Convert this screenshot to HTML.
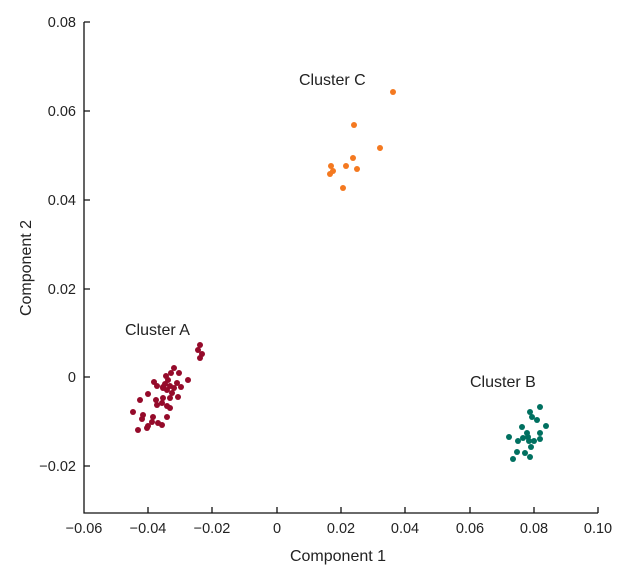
<!DOCTYPE html><html><head><style>body{margin:0;background:#fff}svg{display:block}text{font-family:"Liberation Sans",sans-serif;fill:#222}</style></head><body>
<svg width="618" height="573" viewBox="0 0 618 573">
<g stroke="#111" stroke-width="1.3" fill="none">
<path d="M84,22V513H598"/>
<path d="M148,513v-6M212,513v-6M277,513v-6M341,513v-6M405,513v-6M470,513v-6M534,513v-6M598,513v-6"/>
<path d="M84,22h6M84,111h6M84,200h6M84,289h6M84,377h6M84,466h6"/>
</g>
<g font-size="14.5" text-anchor="middle">
<text x="84" y="533">−0.06</text><text x="148" y="533">−0.04</text><text x="212" y="533">−0.02</text><text x="277" y="533">0</text><text x="341" y="533">0.02</text><text x="405" y="533">0.04</text><text x="470" y="533">0.06</text><text x="534" y="533">0.08</text><text x="598" y="533">0.10</text>
</g>
<g font-size="14.5" text-anchor="end">
<text x="76" y="27">0.08</text><text x="76" y="116">0.06</text><text x="76" y="205">0.04</text><text x="76" y="294">0.02</text><text x="76" y="382">0</text><text x="76" y="471">−0.02</text>
</g>
<text x="338" y="561" font-size="16" text-anchor="middle">Component 1</text>
<text transform="translate(31,268) rotate(-90)" font-size="16" text-anchor="middle">Component 2</text>
<text x="299" y="85" font-size="16">Cluster C</text>
<text x="125" y="335" font-size="16">Cluster A</text>
<text x="470" y="387" font-size="16">Cluster B</text>
<g fill="#950a2a">
<circle cx="200" cy="345" r="3"/><circle cx="198" cy="350" r="3"/><circle cx="202" cy="354" r="3"/><circle cx="200" cy="358" r="3"/>
<circle cx="174" cy="368" r="3"/><circle cx="171" cy="373" r="3"/><circle cx="179" cy="373" r="3"/><circle cx="188" cy="380" r="3"/>
<circle cx="154" cy="382" r="3"/><circle cx="157" cy="386" r="3"/><circle cx="168" cy="380" r="3"/><circle cx="165" cy="384" r="3"/><circle cx="163" cy="387" r="3"/><circle cx="177" cy="383" r="3"/><circle cx="181" cy="387" r="3"/><circle cx="167" cy="390" r="3"/><circle cx="174" cy="388" r="3"/><circle cx="172" cy="393" r="3"/><circle cx="178" cy="397" r="3"/><circle cx="163" cy="398" r="3"/><circle cx="170" cy="398" r="3"/><circle cx="148" cy="394" r="3"/><circle cx="140" cy="400" r="3"/><circle cx="156" cy="400" r="3"/><circle cx="157" cy="405" r="3"/><circle cx="162" cy="403" r="3"/><circle cx="167" cy="406" r="3"/><circle cx="170" cy="408" r="3"/><circle cx="133" cy="412" r="3"/><circle cx="143" cy="415" r="3"/><circle cx="142" cy="419" r="3"/><circle cx="153" cy="417" r="3"/><circle cx="167" cy="417" r="3"/><circle cx="152" cy="422" r="3"/><circle cx="158" cy="423" r="3"/><circle cx="162" cy="425" r="3"/><circle cx="148" cy="426" r="3"/><circle cx="147" cy="428" r="3"/><circle cx="138" cy="430" r="3"/><circle cx="163" cy="388" r="3"/><circle cx="166" cy="376" r="3"/><circle cx="170" cy="386" r="3"/>
</g>
<g fill="#f47920">
<circle cx="393" cy="92" r="3"/><circle cx="354" cy="125" r="3"/><circle cx="380" cy="148" r="3"/><circle cx="353" cy="158" r="3"/><circle cx="346" cy="166" r="3"/><circle cx="357" cy="169" r="3"/><circle cx="331" cy="166" r="3"/><circle cx="333" cy="171" r="3"/><circle cx="330" cy="174" r="3"/><circle cx="343" cy="188" r="3"/>
</g>
<g fill="#007060">
<circle cx="540" cy="407" r="3"/><circle cx="530" cy="412" r="3"/><circle cx="532" cy="417" r="3"/><circle cx="537" cy="420" r="3"/><circle cx="546" cy="426" r="3"/><circle cx="522" cy="427" r="3"/><circle cx="540" cy="433" r="3"/><circle cx="509" cy="437" r="3"/><circle cx="527" cy="433" r="3"/><circle cx="528" cy="437" r="3"/><circle cx="523" cy="438" r="3"/><circle cx="518" cy="441" r="3"/><circle cx="529" cy="441" r="3"/><circle cx="534" cy="441" r="3"/><circle cx="540" cy="439" r="3"/><circle cx="531" cy="447" r="3"/><circle cx="517" cy="452" r="3"/><circle cx="525" cy="453" r="3"/><circle cx="530" cy="457" r="3"/><circle cx="513" cy="459" r="3"/>
</g>
</svg></body></html>
